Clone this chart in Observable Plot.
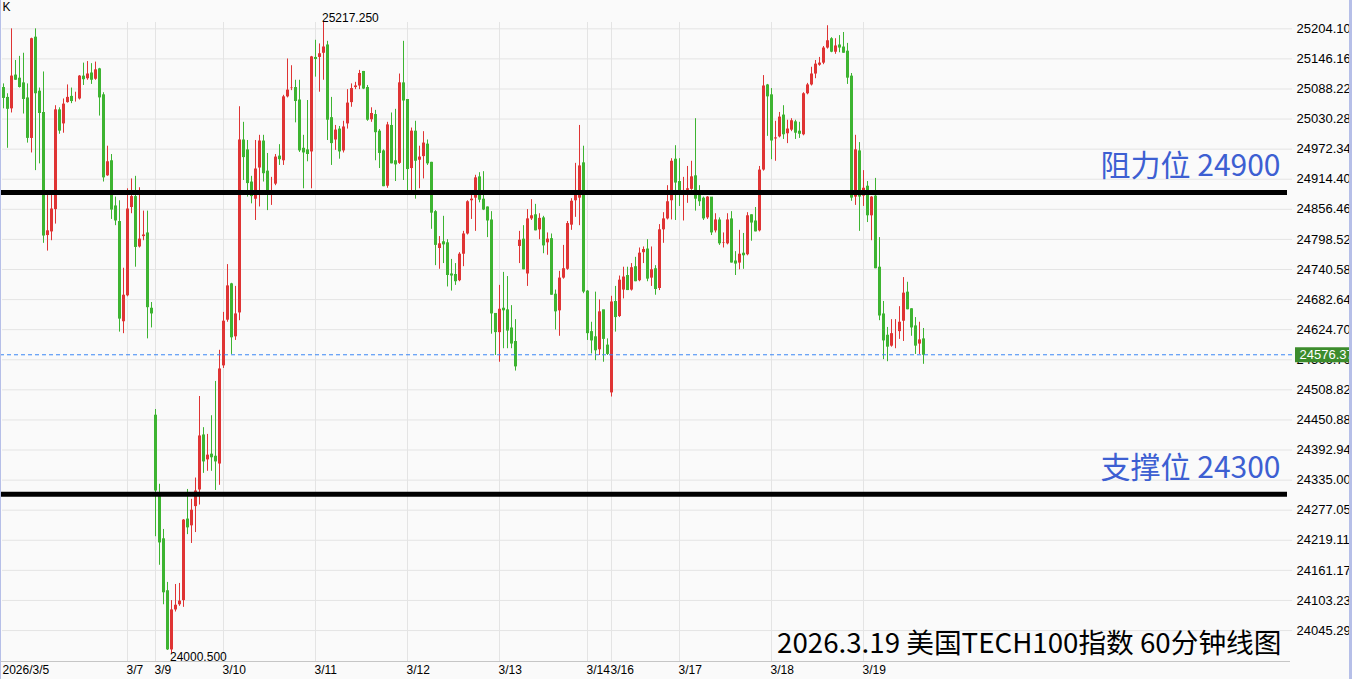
<!DOCTYPE html>
<html>
<head>
<meta charset="utf-8">
<script src="https://cdn.jsdelivr.net/npm/d3@7"></script>
<script src="https://cdn.jsdelivr.net/npm/@observablehq/plot@0.6"></script>
<style>
  html, body { margin: 0; padding: 0; background: #fafafa; overflow: hidden; }
  #wrap { position: relative; width: 1352px; height: 679px; }
  #wrap svg { position: absolute; left: 0; top: 0; }
  .edge { position: absolute; top: 0; height: 679px; background: #b6bfe8; }
</style>
</head>
<body>
<div id="wrap"></div>
<script>
// ---- Data (60-minute candles) ----
const opens = [25090,25071,25049,25114,25108,25099,25070,24992,25187,25083,25042,24805,24812,24855,25047,25020,25061,25073,25068,25068,
25112,25107,25118,25106,25126,25076,24920,24949,24862,24832,24639,24689,24859,24880,24783,24803,24810,24665,24459,24309,
24221,24121,24007,24084,24094,24102,24259,24246,24283,24315,24421,24373,24384,24380,24365,24554,24642,24712,24610,24656,
24989,24970,24908,24875,24935,24987,24929,24902,24904,24958,24949,25072,25089,25090,25066,24973,24970,24966,25148,25148,
25156,25172,25032,24989,25010,24968,25020,25061,25090,25093,25121,25090,25028,25038,25006,24968,24900,25017,24949,24944,
25099,25067,24934,25006,24950,24957,24981,24946,24851,24780,24793,24791,24731,24730,24718,24769,24808,24872,24877,24918,
24875,24860,24835,24655,24618,24665,24662,24627,24601,24784,24798,24731,24837,24845,24816,24839,24791,24799,24692,24660,
24723,24740,24825,24872,24877,24945,24698,24620,24610,24585,24662,24594,24502,24678,24649,24700,24728,24700,24745,24718,
24772,24779,24723,24741,24703,24816,24837,24872,24952,24909,24893,24892,24894,24920,24883,24877,24839,24879,24814,24835,
24791,24789,24837,24756,24752,24771,24768,24845,24833,24814,24931,25095,25076,24991,24995,25037,25001,25008,25024,25006,
24999,25078,25095,25116,25133,25137,25166,25184,25158,25172,25168,25160,25112,24879,24968,24881,24900,24843,24881,24744,
24654,24613,24592,24618,24620,24640,24696,24664,24631,24596,24606];
const highs = [25098,25079,25204,25143,25151,25157,25098,25186,25204,25090,25121,24883,24883,25056,25052,25069,25096,25090,25082,25114,
25138,25141,25137,25140,25128,25081,24978,24962,24880,24873,24743,24896,24915,24920,24898,24853,24853,24677,24471,24327,
24240,24138,24103,24134,24136,24259,24317,24298,24339,24496,24436,24423,24459,24525,24585,24658,24750,24714,24708,25054,
25024,24989,24920,24989,24999,24999,24964,24918,24962,24981,25076,25146,25133,25105,25105,24999,25066,25151,25182,25175,
25217.25,25180,25072,25018,25016,25026,25087,25098,25101,25124,25122,25095,25052,25047,25010,24971,25024,25042,25049,25117,
25180,25067,25013,25026,24978,25006,24990,24947,24854,24804,24843,24798,24760,24752,24773,24814,24873,24891,24922,24927,
24929,24861,24852,24655,24710,24735,24727,24671,24644,24814,24825,24856,24875,24866,24848,24843,24811,24809,24701,24737,
24787,24833,24877,24945,25018,24978,24700,24639,24697,24682,24662,24607,24689,24708,24728,24745,24745,24752,24764,24782,
24784,24798,24784,24748,24827,24850,24902,24954,24979,24954,24918,24939,24949,25031,24902,24880,24881,24879,24848,24840,
24811,24848,24852,24775,24816,24810,24850,24846,24860,24939,25114,25097,25089,25026,25043,25056,25028,25031,25028,25024,
25081,25099,25130,25143,25149,25170,25210,25187,25185,25191,25197,25176,25118,24999,24985,24931,24910,24881,24916,24802,
24679,24629,24644,24644,24669,24725,24716,24665,24648,24639,24627];
const lows = [25050,24974,25042,25105,25090,25040,24984,24965,24931,24944,24791,24776,24796,24828,25001,25003,25061,25060,25063,25067,
25095,25105,25097,25105,25036,24909,24920,24837,24825,24620,24617,24688,24848,24745,24782,24796,24607,24628,24226,24171,
24095,24007,24000.5,24081,24092,24090,24230,24213,24234,24287,24348,24352,24352,24315,24325,24550,24639,24577,24604,24642,
24912,24880,24867,24835,24861,24909,24854,24864,24902,24941,24941,25071,25085,25023,24966,24896,24948,24896,25111,25082,
25105,24989,24941,24970,24953,24965,25011,25053,25087,25087,25087,25026,25024,24950,24935,24900,24897,24944,24910,24943,
24912,24883,24884,24876,24896,24915,24941,24818,24748,24741,24752,24707,24699,24710,24717,24746,24807,24837,24814,24869,
24854,24802,24616,24575,24562,24588,24588,24588,24545,24752,24740,24708,24835,24815,24798,24771,24768,24691,24624,24612,
24722,24739,24816,24841,24825,24694,24604,24578,24565,24575,24562,24575,24495,24620,24648,24684,24700,24699,24717,24717,
24752,24717,24708,24691,24700,24791,24836,24836,24835,24862,24834,24868,24893,24853,24862,24835,24837,24806,24811,24787,
24782,24788,24753,24729,24740,24741,24767,24795,24813,24813,24930,24997,24952,24949,24994,24991,24983,25006,24991,24993,
24998,25077,25094,25108,25132,25135,25165,25158,25155,25158,25157,25097,24872,24864,24814,24862,24831,24796,24742,24642,
24567,24563,24591,24588,24606,24602,24663,24612,24577,24577,24558];
const closes = [25071,25050,25114,25106,25092,25069,24994,25186,25080,25042,24806,24816,24858,25049,25008,25060,25073,25065,25070,25114,
25107,25118,25106,25126,25072,24918,24949,24856,24835,24646,24692,24858,24882,24784,24800,24808,24668,24656,24315,24215,
24119,24009,24086,24095,24103,24259,24244,24278,24315,24421,24371,24384,24379,24371,24550,24642,24710,24610,24656,24991,
24957,24907,24882,24935,24989,24926,24893,24904,24958,24953,25074,25087,25090,25065,24970,24966,24963,25151,25146,25157,
25170,25029,24984,25010,24968,25016,25062,25090,25095,25119,25089,25029,25042,25005,24965,24901,25020,24945,24943,25101,
25066,24934,25008,24950,24958,24985,24945,24850,24788,24791,24789,24730,24729,24718,24771,24810,24872,24877,24918,24875,
24856,24835,24656,24620,24665,24662,24623,24598,24554,24798,24741,24839,24845,24816,24840,24787,24800,24692,24660,24725,
24743,24830,24873,24884,24941,24698,24618,24604,24585,24660,24607,24578,24679,24649,24721,24727,24701,24745,24718,24773,
24780,24723,24741,24703,24818,24839,24872,24950,24908,24893,24895,24897,24920,24877,24872,24839,24881,24812,24837,24791,
24792,24837,24754,24752,24771,24768,24845,24831,24814,24933,25095,25074,24989,24995,25035,25001,25012,25028,25004,25002,
25080,25097,25118,25137,25139,25168,25182,25160,25172,25168,25158,25110,24879,24972,24881,24898,24845,24881,24743,24652,
24604,24592,24618,24620,24640,24696,24664,24629,24594,24606,24576.37];

// Date labels and the candle index where each day starts
const dayLabels = ["2026/3/5","3/7","3/9","3/10","3/11","3/12","3/13","3/14","3/16","3/17","3/18","3/19"];
const dayStart  = [0,31,38,55,78,101,124,146,152,169,192,215];

// Right-axis tick values and their printed labels
const yTicks = [25204.10,25146.16,25088.22,25030.28,24972.34,24914.40,24856.46,24798.52,24740.58,24682.64,24624.70,
  24566.76,24508.82,24450.88,24392.94,24335.00,24277.05,24219.11,24161.17,24103.23,24045.29];
const yTickLabels = ["25204.10","25146.16","25088.22","25030.28","24972.34","24914.40","24856.46","24798.52","24740.58","24682.64","24624.70",
  "24566.76","24508.82","24450.88","24392.94","24335.00","24277.05","24219.11","24161.17","24103.23","24045.29"];
const yDomain = [23985.7, 25258.6];

// Hand-drawn levels and their labels
const levelValues = [24889, 24308];
const levelLabels = ["阻力位 24900", "支撑位 24300"];
const titleText = "2026.3.19 美国TECH100指数 60分钟线图";

// ---- Build ----
const rows = opens.map((o, i) => ({i, o, h: highs[i], l: lows[i], c: closes[i]}));
const RED = "#df3434", GREEN = "#3db431";
const col = d => (d.c >= d.o ? RED : GREEN);
const last = closes[closes.length - 1];
const hiIdx = d3.maxIndex(highs);
const loIdx = d3.minIndex(lows);
const cjk = "'Noto Sans CJK SC', 'Noto Sans', sans-serif";

const chart = Plot.plot({
  width: 1352,
  height: 679,
  marginLeft: 1,
  marginRight: 69,
  marginTop: 0,
  marginBottom: 18,
  x: {axis: null, domain: [-0.5, 320]},
  y: {axis: null, domain: yDomain},
  style: {background: "#fafafa", fontFamily: "'Liberation Sans', Arial, sans-serif", fontSize: "12px", color: "#000", overflow: "hidden"},
  marks: [
    // grid
    Plot.ruleY(yTicks, {stroke: "#e4e4e4", insetLeft: 1, insetRight: -9}),
    Plot.ruleX(dayStart.slice(1), {stroke: "#e4e4e4", insetTop: 22}),
    Plot.ruleY([yDomain[0]], {stroke: "#c6c6c6", insetLeft: -1, insetRight: -7}),
    // candles
    Plot.ruleX(rows, {x: "i", y1: "l", y2: "h", stroke: col, strokeWidth: 1}),
    Plot.ruleX(rows, {x: "i", y1: "o", y2: "c", stroke: col, strokeWidth: 3, insetTop: -0.5, insetBottom: -0.5}),
    // support / resistance
    Plot.ruleY(levelValues, {stroke: "#000", strokeWidth: 5, insetLeft: -1, insetRight: -4}),
    Plot.text(levelLabels, {y: (d, i) => levelValues[i], text: d => d, frameAnchor: "right", textAnchor: "end",
      lineAnchor: "bottom", dx: -3, dy: -16, fontSize: 30, fontFamily: cjk, fill: "#3d5fd2"}),
    // last price line
    Plot.ruleY([last], {stroke: "#3a86f5", strokeDasharray: "4,3", insetLeft: -1, insetRight: -12}),
    // right axis labels
    Plot.text(yTicks, {y: d => d, text: (d, i) => yTickLabels[i], frameAnchor: "right", textAnchor: "start",
      dx: 13, fontSize: 13, fill: "#000"}),
    // last price tag
    Plot.ruleY([last], {stroke: "#3c8c2c", strokeWidth: 15, insetLeft: 1294, insetRight: -69}),
    Plot.text([last], {y: d => d, text: d => d.toFixed(2), frameAnchor: "right", textAnchor: "start",
      dx: 16, fontSize: 13, fill: "#fff"}),
    // date labels
    Plot.text(dayLabels, {x: (d, i) => dayStart[i], text: d => d, frameAnchor: "bottom", textAnchor: "start",
      lineAnchor: "top", dx: -1, dy: 4, fontSize: 12, fill: "#000"}),
    // extremes
    Plot.text([rows[hiIdx]], {x: "i", y: "h", text: d => d.h.toFixed(3), textAnchor: "start", lineAnchor: "bottom",
      dx: -1.5, dy: 0, fontSize: 12, fill: "#000"}),
    Plot.text([rows[loIdx]], {x: "i", y: "l", text: d => d.l.toFixed(3), textAnchor: "start", lineAnchor: "top",
      dx: -1.5, dy: -1, fontSize: 12, fill: "#000"}),
    // corner & title
    Plot.text(["K"], {frameAnchor: "top-left", textAnchor: "start", lineAnchor: "top", dx: 1, dy: 2, fontSize: 12, fill: "#000"}),
    Plot.text([titleText], {frameAnchor: "bottom-right", textAnchor: "end", lineAnchor: "bottom", dx: -2, dy: -9,
      fontSize: 27.7, fontFamily: cjk, fill: "#000"})
  ]
});

const wrap = document.getElementById("wrap");
wrap.appendChild(chart);
const l = document.createElement("div"); l.className = "edge"; l.style.left = "0px"; l.style.width = "1px";
const r = document.createElement("div"); r.className = "edge"; r.style.left = "1349px"; r.style.width = "3px";
wrap.appendChild(l); wrap.appendChild(r);
</script>
</body>
</html>
